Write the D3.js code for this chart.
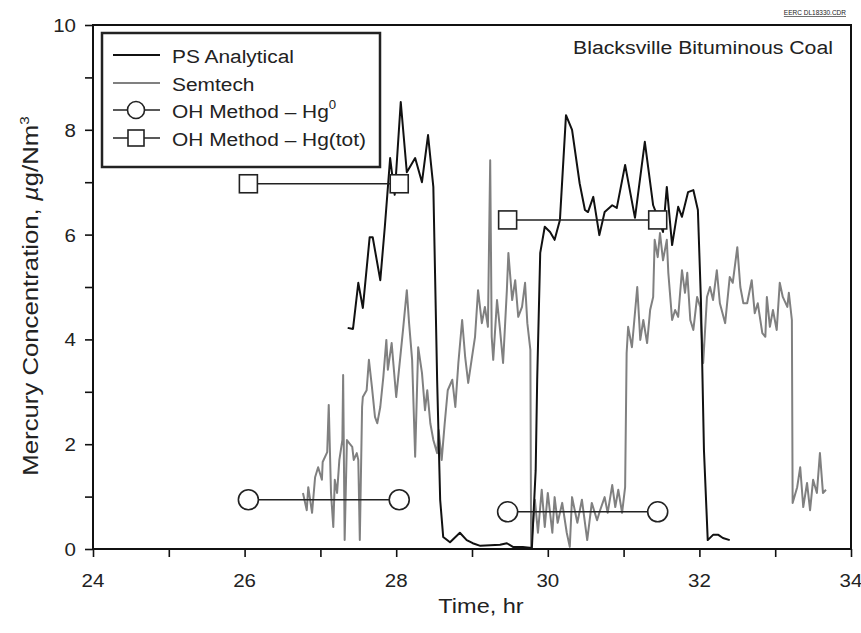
<!DOCTYPE html>
<html><head><meta charset="utf-8">
<script src="https://cdn.jsdelivr.net/npm/d3@7/dist/d3.min.js"></script>
<style>body{margin:0;background:#fff}svg{display:block}text{font-family:"Liberation Sans",Arial,sans-serif;fill:#222}</style>
</head><body><svg id="c" width="861" height="633"></svg>
<script>
// ---- data ----
const xTicks = [24,25,26,27,28,29,30,31,32,33,34];
const yTicks = [0,1,2,3,4,5,6,7,8,9,10];
const psTime = [27.36,27.43,27.50,27.56,27.65,27.69,27.79,27.85,27.92,27.98,28.06,28.14,28.25,28.34,28.42,28.49,28.54,28.58,28.62,28.71,28.84,28.93,29.01,29.11,29.37,29.46,29.54,29.67,29.79,29.84,29.86,29.90,29.96,30.03,30.09,30.16,30.24,30.32,30.42,30.49,30.53,30.60,30.68,30.75,30.85,30.91,31.02,31.15,31.28,31.39,31.45,31.52,31.57,31.64,31.72,31.77,31.85,31.92,31.98,32.02,32.06,32.11,32.18,32.25,32.31,32.40];
const psValue = [4.22,4.20,5.08,4.60,5.95,5.95,5.13,6.15,7.46,6.76,8.53,7.19,7.46,7.00,7.90,6.91,3.23,0.94,0.23,0.13,0.31,0.17,0.11,0.06,0.08,0.11,0.04,0.04,0.02,1.5,3.23,5.65,6.15,6.05,5.90,6.28,8.28,8.00,6.98,6.47,6.43,6.72,5.99,6.43,6.56,6.51,7.33,6.32,7.77,6.56,6.34,6.05,6.91,5.80,6.53,6.34,6.81,6.85,6.47,4.75,1.89,0.17,0.27,0.27,0.21,0.17];
const semTime = [26.77,26.82,26.84,26.89,26.93,26.97,27.02,27.03,27.09,27.11,27.14,27.17,27.19,27.22,27.25,27.29,27.30,27.32,27.35,27.38,27.42,27.44,27.48,27.50,27.52,27.55,27.56,27.61,27.64,27.68,27.72,27.75,27.79,27.83,27.87,27.89,27.94,28.00,28.05,28.09,28.14,28.17,28.21,28.25,28.29,28.34,28.38,28.41,28.45,28.49,28.54,28.56,28.60,28.64,28.68,28.74,28.78,28.82,28.87,28.91,28.95,29.00,29.04,29.08,29.13,29.17,29.21,29.24,29.26,29.28,29.33,29.37,29.41,29.46,29.48,29.53,29.57,29.61,29.66,29.70,29.73,29.77,29.78,29.83,29.87,29.92,29.96,30.00,30.06,30.09,30.13,30.19,30.25,30.29,30.32,30.39,30.45,30.52,30.58,30.65,30.69,30.75,30.79,30.85,30.89,30.93,30.98,31.02,31.04,31.06,31.11,31.18,31.22,31.26,31.31,31.35,31.39,31.41,31.45,31.48,31.52,31.57,31.59,31.64,31.68,31.72,31.77,31.81,31.84,31.88,31.92,31.97,32.01,32.05,32.10,32.14,32.18,32.23,32.27,32.34,32.40,32.44,32.50,32.54,32.58,32.63,32.69,32.73,32.77,32.83,32.87,32.89,32.93,32.97,33.02,33.06,33.10,33.16,33.18,33.22,33.23,33.29,33.33,33.37,33.42,33.46,33.50,33.55,33.59,33.63,33.67];
const semValue = [1.07,0.74,1.18,0.69,1.37,1.56,1.32,1.66,1.85,2.75,1.07,0.42,1.32,1.07,1.70,2.08,3.32,0.17,2.08,2.02,1.95,1.70,1.83,1.70,0.17,2.71,2.90,3.03,3.61,3.09,2.52,2.40,2.71,3.28,3.99,3.42,3.93,2.90,3.61,4.18,4.94,4.31,3.61,1.76,3.85,3.36,2.65,3.03,2.40,2.08,1.83,2.27,1.70,2.40,3.03,3.23,2.71,3.55,4.37,3.66,3.17,3.66,4.05,4.94,4.31,4.62,4.24,7.42,4.05,3.61,4.75,4.18,3.55,4.94,5.65,4.75,5.13,4.43,4.62,5.08,4.31,3.80,0.04,0.94,0.31,1.13,0.42,1.07,0.31,0.99,0.50,0.88,0.31,0.04,0.99,0.50,0.94,0.17,0.88,0.55,0.74,0.99,0.69,1.22,0.80,1.13,0.69,1.18,3.74,4.24,3.85,5.00,3.99,4.37,3.93,4.56,4.81,5.90,5.57,6.03,5.51,5.90,5.27,4.37,4.56,4.43,5.32,4.89,5.27,4.37,4.18,4.81,4.62,3.55,4.81,5.00,4.75,5.32,4.69,4.31,5.19,5.08,5.76,5.00,4.69,4.69,5.13,4.50,4.69,4.12,4.05,4.81,4.24,4.56,4.18,5.08,4.81,4.62,4.89,4.37,0.88,1.18,1.56,0.80,1.26,0.74,1.32,1.07,1.83,1.07,1.13];
const hg0Time = [26.05,28.04,29.47,31.45];
const hg0Value = [0.94,0.94,0.71,0.71];
const hgTotTime = [26.05,28.04,29.47,31.45];
const hgTotValue = [6.97,6.97,6.28,6.28];
const pairGroups = [0,0,1,1];

// ---- chart ----
const svg = d3.select("#c");
const x = d3.scaleLinear().domain([24,34]).range([93,851]);
const y = d3.scaleLinear().domain([0,10]).range([549,25]);
function txt(g, tx, ty, s, size, anchor, rot, sx){
  const t = g.append("text")
    .attr("transform", `translate(${tx},${ty})` + (rot?` rotate(${rot})`:"") + ` scale(${sx||1.08},1)`)
    .attr("font-size", size).attr("text-anchor", anchor||"start");
  if (s!==null) t.text(s);
  return t;
}

// axes
const ax = svg.append("g").attr("transform","translate(0,549)")
  .call(d3.axisBottom(x).tickValues(xTicks).tickSize(8).tickFormat(""));
const ay = svg.append("g").attr("transform","translate(93,0)")
  .call(d3.axisLeft(y).tickValues(yTicks).tickSize(8).tickFormat(""));
[ax,ay].forEach(a=>{a.select(".domain").remove();a.selectAll("line").attr("stroke","#111").attr("stroke-width",1.6);});
xTicks.filter(v=>v%2===0).forEach(v=>txt(svg, x(v), 587, String(v), 19, "middle"));
yTicks.filter(v=>v%2===0).forEach(v=>txt(svg, 76, y(v)+7, String(v), 19, "end"));

// frame
svg.append("rect").attr("x",93).attr("y",25).attr("width",758).attr("height",524)
  .attr("fill","none").attr("stroke","#111").attr("stroke-width",2);

// series
const line = d3.line().x(d=>x(d[0])).y(d=>y(d[1]));
svg.append("path").datum(semTime.map((t,i)=>[t,semValue[i]]))
  .attr("d",line).attr("fill","none").attr("stroke","#808080").attr("stroke-width",2).attr("stroke-linejoin","round");
svg.append("path").datum(psTime.map((t,i)=>[t,psValue[i]]))
  .attr("d",line).attr("fill","none").attr("stroke","#111").attr("stroke-width",2).attr("stroke-linejoin","round");

function pairs(ts, vs){
  const g = d3.groups(ts.map((t,i)=>[t,vs[i],pairGroups[i]]), d=>d[2]);
  return g.map(d=>d[1]);
}
pairs(hgTotTime,hgTotValue).forEach(p=>{
  svg.append("path").datum(p).attr("d",line).attr("fill","none").attr("stroke","#222").attr("stroke-width",1.6);
});
pairs(hg0Time,hg0Value).forEach(p=>{
  svg.append("path").datum(p).attr("d",line).attr("fill","none").attr("stroke","#222").attr("stroke-width",1.6);
});
svg.selectAll(".sq").data(hgTotTime.map((t,i)=>[t,hgTotValue[i]])).enter().append("rect")
  .attr("x",d=>x(d[0])-9).attr("y",d=>y(d[1])-9).attr("width",18).attr("height",18)
  .attr("fill","#fff").attr("stroke","#222").attr("stroke-width",1.6);
svg.selectAll(".ci").data(hg0Time.map((t,i)=>[t,hg0Value[i]])).enter().append("circle")
  .attr("cx",d=>x(d[0])).attr("cy",d=>y(d[1])).attr("r",10)
  .attr("fill","#fff").attr("stroke","#222").attr("stroke-width",1.6);

// legend
const lg = svg.append("g");
lg.append("rect").attr("x",102).attr("y",33).attr("width",278).attr("height",134)
  .attr("fill","#fff").attr("stroke","#222").attr("stroke-width",2.5);
const rows = [55,83,110,138];
lg.append("line").attr("x1",113).attr("x2",160).attr("y1",rows[0]).attr("y2",rows[0]).attr("stroke","#111").attr("stroke-width",2);
lg.append("line").attr("x1",113).attr("x2",160).attr("y1",rows[1]).attr("y2",rows[1]).attr("stroke","#808080").attr("stroke-width",2);
lg.append("line").attr("x1",113).attr("x2",160).attr("y1",rows[2]).attr("y2",rows[2]).attr("stroke","#222").attr("stroke-width",1.6);
lg.append("circle").attr("cx",136).attr("cy",rows[2]).attr("r",8.5).attr("fill","#fff").attr("stroke","#222").attr("stroke-width",1.6);
lg.append("line").attr("x1",113).attr("x2",160).attr("y1",rows[3]).attr("y2",rows[3]).attr("stroke","#222").attr("stroke-width",1.6);
lg.append("rect").attr("x",128).attr("y",rows[3]-8).attr("width",16).attr("height",16).attr("fill","#fff").attr("stroke","#222").attr("stroke-width",1.6);
txt(lg,172,rows[0]+8,"PS Analytical",19,"start",0,1.1);
txt(lg,172,rows[1]+8,"Semtech",19,"start",0,1.1);
const t3 = txt(lg,172,rows[2]+8,null,19,"start",0,1.1);
t3.append("tspan").text("OH Method – Hg");
t3.append("tspan").attr("font-size",12).attr("dy",-9).text("0");
txt(lg,172,rows[3]+8,"OH Method – Hg(tot)",19,"start",0,1.1);

// annotations
txt(svg,573,54,"Blacksville Bituminous Coal",19,"start",0,1.12);
svg.append("text").attr("x",846).attr("y",15).attr("text-anchor","end").attr("font-size",6.5)
  .attr("text-decoration","underline").attr("fill","#333").text("EERC DL18330.CDR");
txt(svg,481,613,"Time, hr",21,"middle",0,1.12);
const yl = txt(svg,38,296,null,22,"middle",-90,1.17);
yl.append("tspan").text("Mercury Concentration, ");
yl.append("tspan").attr("font-style","italic").text("µ");
yl.append("tspan").text("g/Nm");
yl.append("tspan").attr("font-size",13).attr("dy",-9).text("3");
</script></body></html>
